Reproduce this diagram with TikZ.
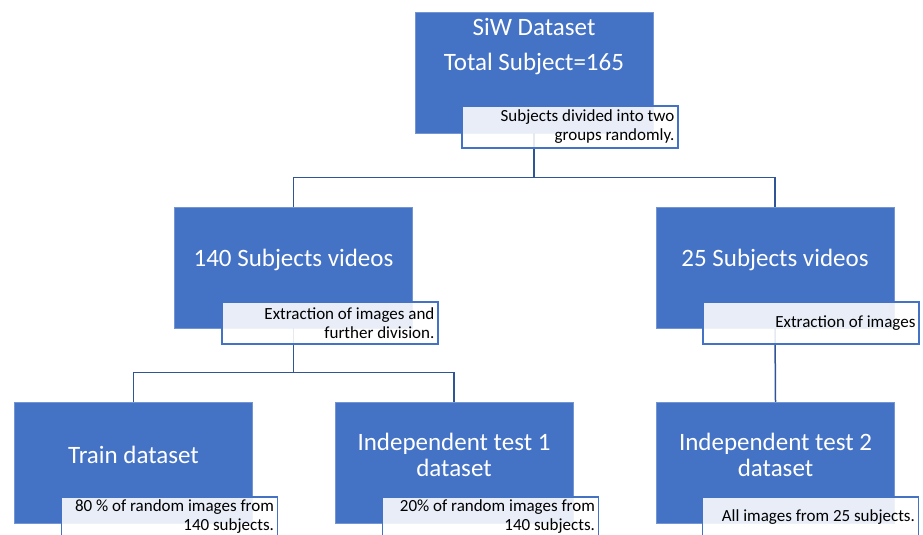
\documentclass[tikz,border=0pt]{standalone}
\usepackage{fontspec}
\setmainfont{Carlito}
\usetikzlibrary{calc}
\definecolor{boxblue}{HTML}{4472C4}
\definecolor{linkblue}{HTML}{2F5597}
\begin{document}
\begin{tikzpicture}[x=1pt,y=-1pt,
 box/.style={fill=boxblue, draw=boxblue!75!white, line width=0.5pt, minimum width=238pt, minimum height=121pt, inner sep=0pt},
 title/.style={text=white, font=\fontsize{25}{26}\selectfont, align=center, inner sep=0pt},
 note/.style={draw=boxblue, line width=1.3pt, fill=white, fill opacity=0.88, minimum width=216pt, minimum height=42pt, inner sep=0pt},
 notetext/.style={font=\fontsize{17}{19}\selectfont, align=right, anchor=east, inner sep=0pt, text=black},
 link/.style={draw=linkblue, line width=1.5pt}
]
\useasboundingbox (0,0) rectangle (923,535);

% boxes
\node[box] (top) at (534,72.5) {};
\node[box] (m1) at (293.5,267.5) {};
\node[box] (m2) at (775,267.5) {};
\node[box] (b1) at (133.5,462.5) {};
\node[box] (b2) at (454,462.5) {};
\node[box] (b3) at (775.5,462.5) {};

% titles
\node[title] (t0a) at (534,27) {SiW Dataset};
\node[title] (t0b) at (534,64) {Total Subject=165};
\node[title] (t1) at (293.5,260) {140 Subjects videos};
\node[title] (t2) at (775,260) {25 Subjects videos};
\node[title] (t3) at (133.5,455) {Train dataset};
\node[title] (t4) at (454,455) {Independent test 1\\dataset};
\node[title] (t5) at (775.5,455) {Independent test 2\\dataset};

% connectors
\coordinate (j1) at ($(top.south)+(0,44)$);
\draw[link] (top.south) -- (j1) -| (m1.north);
\draw[link] (j1) -| (m2.north);
\coordinate (j2) at ($(m1.south)+(0,44)$);
\draw[link] (m1.south) -- (j2) -| (b1.north);
\draw[link] (j2) -| (b2.north);
\draw[link] (m2.south) -- (b3.north);

% notes
\node[note] (n0) at (570,127) {};
\node[note] (n1) at (330,323) {};
\node[note] (n2) at (811,323) {};
\node[note] (n3) at (169.5,518) {};
\node[note] (n4) at (490.5,518) {};
\node[note] (n5) at (810.5,518) {};

\node[notetext] (nt0) at ($(n0.east)+(-4,0)$) {Subjects divided into two\\groups randomly.};
\node[notetext] (nt1) at ($(n1.east)+(-4,0)$) {Extraction of images and\\further division.};
\node[notetext] (nt2) at ($(n2.east)+(-4,0)$) {Extraction of images};
\node[notetext] (nt3) at ($(n3.east)+(-4,-1)$) {80 \% of random images from\\140 subjects.};
\node[notetext] (nt4) at ($(n4.east)+(-4,-1)$) {20\% of random images from\\140 subjects.};
\node[notetext] (nt5) at ($(n5.east)+(-4,-1)$) {All images from 25 subjects.};
\end{tikzpicture}
\end{document}
